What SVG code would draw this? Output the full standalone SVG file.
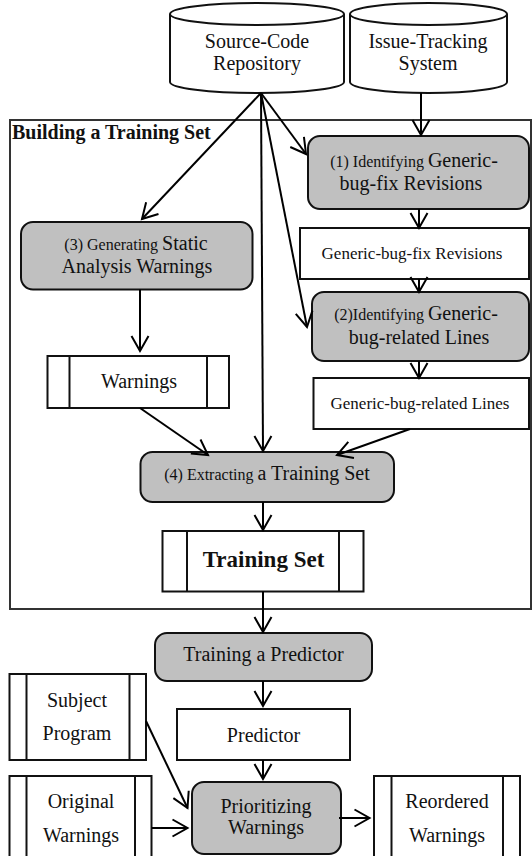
<svg xmlns="http://www.w3.org/2000/svg" width="532" height="856" viewBox="0 0 532 856">
<defs>
<marker id="arr" markerUnits="userSpaceOnUse" markerWidth="22" markerHeight="22" viewBox="-18 -11 22 22" refX="0" refY="0" orient="auto">
<path d="M-15,-8.5 L0,0 L-15,8.5" fill="none" stroke="#000" stroke-width="2"/>
</marker>
</defs>
<style>
text{font-family:"Liberation Serif","Times New Roman",serif;fill:#111;}
.t20{font-size:20px;}
.t17{font-size:17px;}
.sm{font-size:16px;}
.step{fill:#c0c0c0;stroke:#111;stroke-width:2;}
.data{fill:#fff;stroke:#111;stroke-width:2;}
.cyl{fill:#fff;stroke:#111;stroke-width:2;}
.frame{fill:none;stroke:#333;stroke-width:2;}
.c{fill:none;stroke:#000;stroke-width:2;marker-end:url(#arr);}
</style>
<rect width="532" height="856" fill="#fff"/>

<g id="frame">
<rect class="frame" x="10" y="120" width="521" height="489"/>
<text x="12" y="139" style="font-size:20px;font-weight:bold">Building a Training Set</text>
</g>

<g id="source-code-repository">
<path class="cyl" d="M170,14 A87,11 0 0 1 344,14 L344,82 A87,11 0 0 1 170,82 Z"/>
<path class="cyl" d="M170,14 A87,11 0 0 0 344,14"/>
<text class="t20" x="257" y="48" text-anchor="middle">Source-Code</text>
<text class="t20" x="257" y="70" text-anchor="middle">Repository</text>
</g>

<g id="issue-tracking-system">
<path class="cyl" d="M350,14 A78.5,11 0 0 1 507,14 L507,82 A78.5,11 0 0 1 350,82 Z"/>
<path class="cyl" d="M350,14 A78.5,11 0 0 0 507,14"/>
<text class="t20" x="428" y="48" text-anchor="middle">Issue-Tracking</text>
<text class="t20" x="428" y="70" text-anchor="middle">System</text>
</g>

<g id="step1">
<rect class="step" x="308" y="136" width="221" height="73" rx="12"/>
<text class="t20" x="414" y="167" text-anchor="middle"><tspan class="sm">(1) Identifying </tspan>Generic-</text>
<text class="t20" x="411" y="190" text-anchor="middle">bug-fix Revisions</text>
</g>

<g id="generic-bug-fix-revisions">
<rect class="data" x="300" y="228" width="229" height="51"/>
<text class="t17" x="412" y="259" text-anchor="middle">Generic-bug-fix Revisions</text>
</g>

<g id="step2">
<rect class="step" x="312" y="292" width="217" height="69" rx="12"/>
<text class="t20" x="416" y="320" text-anchor="middle"><tspan class="sm">(2)Identifying </tspan>Generic-</text>
<text class="t20" x="419" y="344" text-anchor="middle">bug-related Lines</text>
</g>

<g id="generic-bug-related-lines">
<rect class="data" x="313.5" y="378" width="215.5" height="51"/>
<text class="t17" x="420" y="409" text-anchor="middle">Generic-bug-related Lines</text>
</g>

<g id="step3">
<rect class="step" x="21" y="222" width="231.5" height="67.5" rx="12"/>
<text class="t20" x="136" y="250" text-anchor="middle"><tspan class="sm">(3) Generating </tspan>Static</text>
<text class="t20" x="137" y="273" text-anchor="middle">Analysis Warnings</text>
</g>

<g id="warnings">
<rect class="data" x="47.5" y="356" width="181.5" height="52"/>
<line class="data" x1="69.5" y1="356" x2="69.5" y2="408"/>
<line class="data" x1="207" y1="356" x2="207" y2="408"/>
<text class="t20" x="139" y="388" text-anchor="middle">Warnings</text>
</g>

<g id="step4">
<rect class="step" x="140.5" y="452" width="253.5" height="50" rx="12"/>
<text class="t20" x="267" y="480" text-anchor="middle"><tspan class="sm">(4) Extracting </tspan>a Training Set</text>
</g>

<g id="training-set">
<rect class="data" x="162.5" y="531" width="201" height="60.5"/>
<line class="data" x1="187" y1="531" x2="187" y2="591.5"/>
<line class="data" x1="339" y1="531" x2="339" y2="591.5"/>
<text x="263.5" y="567" text-anchor="middle" style="font-size:23px;font-weight:bold">Training Set</text>
</g>

<g id="training-a-predictor">
<rect class="step" x="155" y="633" width="217" height="48" rx="12"/>
<text class="t20" x="263.5" y="661" text-anchor="middle">Training a Predictor</text>
</g>

<g id="predictor">
<rect class="data" x="177" y="709" width="173" height="51"/>
<text class="t20" x="263.5" y="742" text-anchor="middle">Predictor</text>
</g>

<g id="subject-program">
<rect class="data" x="9.5" y="674" width="136.5" height="86"/>
<line class="data" x1="26.5" y1="674" x2="26.5" y2="760"/>
<line class="data" x1="129.5" y1="674" x2="129.5" y2="760"/>
<text class="t20" x="77" y="707" text-anchor="middle">Subject</text>
<text class="t20" x="77" y="740" text-anchor="middle">Program</text>
</g>

<g id="prioritizing-warnings">
<rect class="step" x="192" y="782" width="149" height="72" rx="12"/>
<text class="t20" x="266" y="813" text-anchor="middle">Prioritizing</text>
<text class="t20" x="266" y="834" text-anchor="middle">Warnings</text>
</g>

<g id="original-warnings">
<rect class="data" x="9.5" y="776" width="142" height="90"/>
<line class="data" x1="26.5" y1="776" x2="26.5" y2="866"/>
<line class="data" x1="135" y1="776" x2="135" y2="866"/>
<text class="t20" x="81" y="808" text-anchor="middle">Original</text>
<text class="t20" x="81" y="842" text-anchor="middle">Warnings</text>
</g>

<g id="reordered-warnings">
<rect class="data" x="374" y="776" width="146" height="90"/>
<line class="data" x1="391.5" y1="776" x2="391.5" y2="866"/>
<line class="data" x1="503" y1="776" x2="503" y2="866"/>
<text class="t20" x="447" y="808" text-anchor="middle">Reordered</text>
<text class="t20" x="447" y="842" text-anchor="middle">Warnings</text>
</g>

<g id="connectors">
<line class="c" x1="421" y1="93" x2="421" y2="135"/>
<line class="c" x1="261" y1="93" x2="142" y2="219"/>
<line class="c" x1="261" y1="93" x2="306" y2="154"/>
<line class="c" x1="261" y1="93" x2="307" y2="327"/>
<line class="c" x1="261" y1="93" x2="263" y2="451"/>
<line class="c" x1="419" y1="209" x2="419" y2="228"/>
<line class="c" x1="419" y1="279" x2="419" y2="292"/>
<line class="c" x1="419" y1="361" x2="419" y2="378"/>
<line class="c" x1="410" y1="429" x2="337" y2="455"/>
<line class="c" x1="140" y1="289.5" x2="140" y2="351"/>
<line class="c" x1="140" y1="408" x2="208" y2="455"/>
<line class="c" x1="263" y1="502" x2="263" y2="530"/>
<line class="c" x1="263" y1="591.5" x2="263" y2="632"/>
<line class="c" x1="263" y1="681" x2="263" y2="706"/>
<line class="c" x1="263" y1="760" x2="263" y2="779"/>
<line class="c" x1="146" y1="721" x2="187.5" y2="808"/>
<line class="c" x1="151.5" y1="828" x2="187.5" y2="828"/>
<line class="c" x1="339" y1="818" x2="369.5" y2="818"/>
</g>
</svg>
